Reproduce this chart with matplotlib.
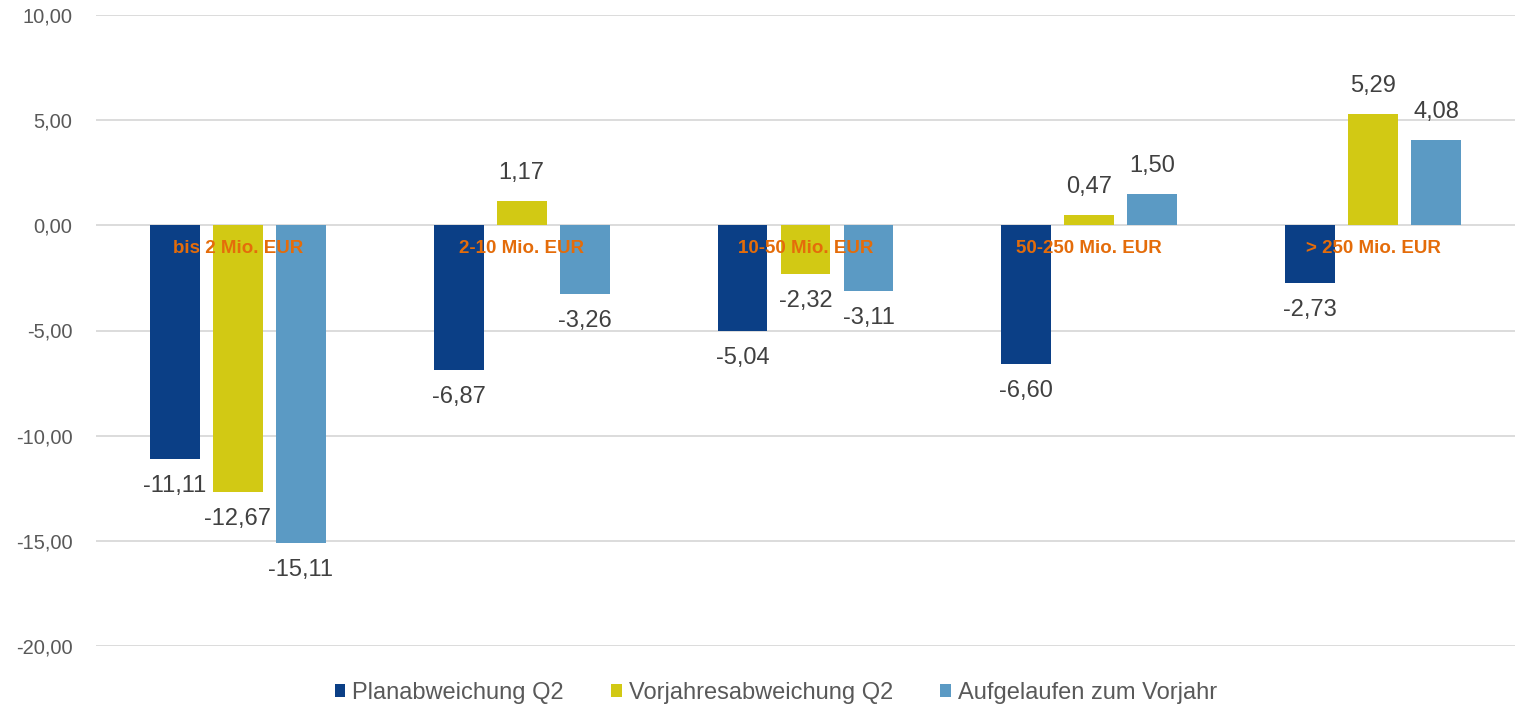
import matplotlib
matplotlib.use("Agg")
import matplotlib.pyplot as plt
import numpy as np

categories = ["bis 2 Mio. EUR", "2-10 Mio. EUR", "10-50 Mio. EUR", "50-250 Mio. EUR", "> 250 Mio. EUR"]
series_names = ["Planabweichung Q2", "Vorjahresabweichung Q2", "Aufgelaufen zum Vorjahr"]
plan = [-11.11, -6.87, -5.04, -6.60, -2.73]
vorjahr = [-12.67, 1.17, -2.32, 0.47, 5.29]
aufgelaufen = [-15.11, -3.26, -3.11, 1.50, 4.08]
yticks = [10, 5, 0, -5, -10, -15, -20]

colors = ["#0B3F86", "#D2C914", "#5B9AC4"]
plt.rcParams['font.family'] = ['Liberation Sans', 'DejaVu Sans']

fig = plt.figure(figsize=(15.15, 7.08), dpi=100)
ax = fig.add_axes([96/1515, 62/708, 1 - 96/1515, (646-15)/708])

x = np.arange(len(categories))
w = 0.176
off = 0.222
for i, (vals, name) in enumerate(zip([plan, vorjahr, aufgelaufen], series_names)):
    xs = x + (i - 1) * off
    ax.bar(xs, vals, width=w, color=colors[i], label=name, zorder=2)
    for xi, v in zip(xs, vals):
        dy = 28 if v >= 0 else -27
        ax.annotate(f"{v:.2f}".replace(".", ","), (xi, v), xytext=(0, dy * 0.72),
                    textcoords="offset points", ha="center", va="center",
                    fontsize=17, color="#404040", zorder=4)

for xi, c in zip(x, categories):
    ax.text(xi, -1.1, c, ha="center", va="center", fontsize=13.5, fontweight="bold",
            color="#E46C0A", zorder=5)

ax.set_xlim(-0.5, 4.5)
ax.set_ylim(-20, 10)
ax.set_yticks(yticks)
ax.set_yticklabels([f"{t:.2f}".replace(".", ",") for t in yticks], fontsize=14.5, color="#595959")
ax.tick_params(axis="y", length=0, pad=17)
ax.set_xticks([])
ax.grid(axis="y", color="#D9D9D9", linewidth=1.3, zorder=0)
ax.set_axisbelow(True)
for s in ax.spines.values():
    s.set_visible(False)

fig.legend(loc="center", bbox_to_anchor=(776/1515, 15/708), ncol=3, frameon=False,
           fontsize=17, handlelength=0.45, handleheight=0.45, handletextpad=0.3,
           columnspacing=2.0, labelcolor="#595959")

fig.savefig("out.png", dpi=100)
